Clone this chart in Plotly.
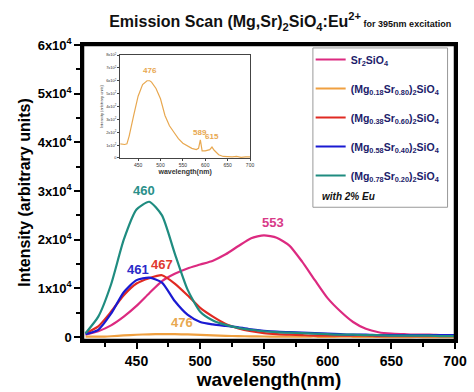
import plotly.graph_objects as go

# ---------------- data ----------------
wavelength = [410, 420, 430, 440, 450, 460, 470, 480, 490, 500,
              510, 520, 530, 540, 550, 560, 570, 580, 590, 600,
              610, 620, 630, 640, 650, 660, 670, 680, 690, 700]

sr2sio4 = [500, 1200, 2400, 4200, 6400, 9000, 11500, 13000, 14100, 14900,
           15700, 17000, 18700, 20300, 20900, 20400, 18800, 15500, 11700, 8000,
           5300, 3100, 1700, 1000, 700, 600, 500, 500, 400, 400]
mg078 = [800, 4200, 10800, 20000, 26200, 27800, 25000, 17200, 9800, 5200,
         3400, 2500, 1900, 1500, 1200, 1000, 900, 800, 700, 600,
         500, 500, 400, 400, 300, 300, 300, 300, 200, 200]
mg038 = [800, 2200, 5200, 8600, 11000, 12100, 12700, 11000, 8600, 6000,
         4200, 2700, 1800, 1200, 800, 600, 500, 400, 300, 300,
         300, 300, 300, 200, 200, 200, 200, 200, 200, 200]
mg058 = [600, 1500, 4800, 9200, 11700, 12200, 11200, 7400, 4600, 3100,
         2600, 2300, 2000, 1600, 1300, 1100, 1000, 900, 800, 700,
         600, 500, 500, 400, 400, 400, 400, 400, 400, 400]

# Mg0.18 sample (also shown in the inset)
wl_018 = [410, 420, 425, 430, 440, 450, 460, 470, 476, 480, 490, 500, 510, 520,
          530, 540, 550, 560, 570, 580, 585, 589, 593, 600, 610, 615, 620, 630,
          640, 650, 660, 670, 680, 690, 700]
mg018 = [110, 105, 110, 170, 330, 480, 570, 600, 600, 590, 540, 460, 330, 250,
         200, 150, 115, 95, 75, 65, 75, 140, 55, 55, 65, 85, 60, 25,
         12, 10, 8, 12, 5, 8, 8]

names = ["Sr<sub>2</sub>SiO<sub>4</sub>",
         "(Mg<sub>0.18</sub>Sr<sub>0.80</sub>)<sub>2</sub>SiO<sub>4</sub>",
         "(Mg<sub>0.38</sub>Sr<sub>0.60</sub>)<sub>2</sub>SiO<sub>4</sub>",
         "(Mg<sub>0.58</sub>Sr<sub>0.40</sub>)<sub>2</sub>SiO<sub>4</sub>",
         "(Mg<sub>0.78</sub>Sr<sub>0.20</sub>)<sub>2</sub>SiO<sub>4</sub>"]
colors = ["#dc2a80", "#f0a040", "#e02a22", "#1a1ad2", "#1f8c80"]

peak_labels = ["553", "476", "467", "461", "460"]
peak_label_x = [557, 486, 470, 451, 456]
peak_label_y = [23600, 2900, 15000, 13800, 30200]
label_colors = ["#d83a88", "#e8a850", "#e03a30", "#2a2ac8", "#2a908a"]

inset_peaks = ["476", "589", "615"]
inset_peak_x = [476, 589, 615]
inset_peak_y = [680, 200, 165]

y_ticks = [0, 10000, 20000, 30000, 40000, 50000, 60000]
y_ticktext = ["0", "1x10<sup>4</sup>", "2x10<sup>4</sup>", "3x10<sup>4</sup>",
              "4x10<sup>4</sup>", "5x10<sup>4</sup>", "6x10<sup>4</sup>"]
x_ticks = [450, 500, 550, 600, 650, 700]
inset_y_ticks = [0, 100, 200, 300, 400, 500, 600, 700, 800]
inset_y_ticktext = ["0"] + ["%dx10<sup>2</sup>" % i for i in range(1, 9)]

# ---------------- figure ----------------
fig = go.Figure()
series = [(wavelength, sr2sio4), (wl_018, mg018), (wavelength, mg038),
          (wavelength, mg058), (wavelength, mg078)]
for i, (xs, ys) in enumerate(series):
    fig.add_trace(go.Scatter(x=xs, y=ys, mode="lines", name=names[i],
                             legendgroup="g%d" % i,
                             line=dict(color=colors[i], width=2.2, shape="spline", smoothing=0.6)))

# inset trace
fig.add_trace(go.Scatter(x=wl_018, y=mg018, mode="lines", showlegend=False,
                         xaxis="x2", yaxis="y2",
                         line=dict(color="#e8a850", width=1.2)))

FAM = "Liberation Sans, Arial, sans-serif"
bold = dict(family=FAM, color="black", weight="bold")

fig.update_layout(
    width=474, height=392,
    margin=dict(l=83, r=19, t=45, b=52, autoexpand=False),
    paper_bgcolor="white", plot_bgcolor="white",
    showlegend=True,
    legend=dict(x=0.612, y=1.0, xanchor="left", yanchor="top",
                bgcolor="rgba(0,0,0,0)", borderwidth=0,
                font=dict(family=FAM, size=10.5, color="#1c1c6a", weight="bold"),
                tracegroupgap=10, itemwidth=30),
    title=dict(text="<b>Emission Scan (Mg,Sr)<sub>2</sub>SiO<sub>4</sub>:Eu<sup>2+</sup></b>"
                    "<span style='font-size:9px'><b> for 395nm excitation</b></span>",
               x=0.53, xref="paper", xanchor="center",
               y=0.945, yref="container", yanchor="middle",
               font=dict(family=FAM, size=16, color="#111")),
    xaxis=dict(range=[408, 700], tickvals=x_ticks, ticks="outside", ticklen=6, tickwidth=2,
               tickcolor="black", showgrid=False, zeroline=False,
               showline=True, linewidth=2.5, linecolor="black", mirror=True,
               tickfont=dict(size=14, **bold),
               minor=dict(dtick=25, tick0=400, ticks="outside", ticklen=4, tickwidth=2, tickcolor="black"),
               title=dict(text="wavelength(nm)", font=dict(size=19, **bold), standoff=2)),
    yaxis=dict(range=[-600, 60000], tickvals=y_ticks, ticktext=y_ticktext,
               ticks="outside", ticklen=6, tickwidth=2, tickcolor="black",
               showgrid=False, zeroline=False,
               showline=True, linewidth=2.5, linecolor="black", mirror=True,
               tickfont=dict(size=13, **bold),
               minor=dict(dtick=5000, tick0=0, ticks="outside", ticklen=4, tickwidth=2, tickcolor="black"),
               title=dict(text="Intensity (arbitrary units)", font=dict(size=16, **bold), standoff=4)),
    xaxis2=dict(domain=[0.1, 0.449], anchor="y2", range=[410, 700], tickvals=x_ticks,
                ticks="outside", ticklen=2, tickwidth=1, tickcolor="#444",
                showgrid=False, zeroline=False, showline=True, linewidth=1,
                linecolor="#444", mirror=True,
                tickfont=dict(size=5, family=FAM, color="#333"),
                title=dict(text="<b>wavelength(nm)</b>", standoff=2,
                           font=dict(size=7, family=FAM, color="#333"))),
    yaxis2=dict(domain=[0.617, 0.966], anchor="x2", range=[0, 800],
                tickvals=inset_y_ticks, ticktext=inset_y_ticktext,
                ticks="outside", ticklen=2, tickwidth=1, tickcolor="#444",
                showgrid=False, zeroline=False, showline=True, linewidth=1,
                linecolor="#444", mirror=True,
                tickfont=dict(size=4, family=FAM, color="#333"),
                title=dict(text="Intensity (arbitrary units)", standoff=2,
                           font=dict(size=4, family=FAM, color="#333"))),
)

# outer frame of the main plot
fig.add_shape(type="rect", xref="paper", yref="paper", x0=0, x1=1, y0=0, y1=1,
              line=dict(color="black", width=2.5), fillcolor="rgba(0,0,0,0)", layer="above")

# legend box
fig.add_shape(type="rect", xref="paper", yref="paper", x0=0.618, x1=0.98, y0=0.45, y1=0.99,
              line=dict(color="#999", width=1), fillcolor="rgba(0,0,0,0)", layer="above")
fig.add_annotation(text="<i><b>with 2% Eu</b></i>", xref="paper", yref="paper",
                   x=0.79, y=0.485, showarrow=False,
                   font=dict(family=FAM, size=10, color="#111"))

for i in range(5):
    fig.add_annotation(text="<b>%s</b>" % peak_labels[i], x=peak_label_x[i], y=peak_label_y[i],
                       xref="x", yref="y", showarrow=False,
                       font=dict(family=FAM, size=13, color=label_colors[i]))
for i in range(3):
    fig.add_annotation(text="<b>%s</b>" % inset_peaks[i], x=inset_peak_x[i], y=inset_peak_y[i],
                       xref="x2", yref="y2", showarrow=False,
                       font=dict(family=FAM, size=8, color="#e8a850"))

fig.write_html("out.html", config={"displayModeBar": False},
               post_script="document.body.style.margin='0';document.body.style.overflow='hidden';")
